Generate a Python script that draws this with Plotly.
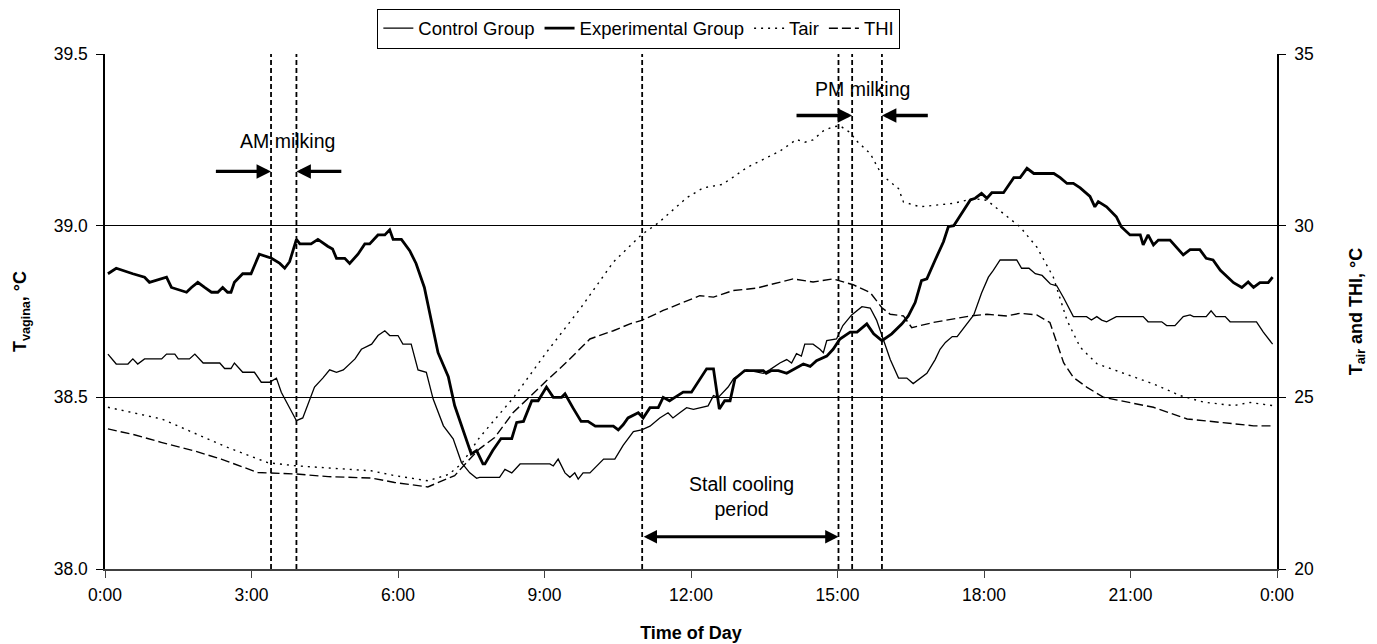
import plotly.graph_objects as go

# ---------------- data (time in hours of day) ----------------
ctrl_t = [0.06, 0.23, 0.47, 0.57, 0.67, 0.81, 1.16, 1.26, 1.43, 1.50, 1.73, 1.84, 2.01, 2.35, 2.45, 2.58, 2.65,
          2.82, 3.06, 3.20, 3.37, 3.51, 3.61, 3.75, 3.92, 4.05, 4.29, 4.46, 4.60, 4.74, 4.88, 5.12, 5.25, 5.46,
          5.59, 5.73, 5.83, 6.00, 6.10, 6.27, 6.41, 6.58, 6.72, 6.93, 7.13, 7.30, 7.47, 7.61, 7.67, 8.08, 8.19,
          8.33, 8.50, 9.11, 9.18, 9.28, 9.42, 9.52, 9.62, 9.69, 9.79, 9.93, 10.11, 10.21, 10.44, 10.61, 10.82,
          10.99, 11.16, 11.36, 11.53, 11.63, 11.77, 11.91, 12.05, 12.19, 12.35, 12.46, 12.56, 12.76, 12.87,
          13.14, 13.48, 13.61, 13.82, 13.96, 14.06, 14.16, 14.26, 14.33, 14.50, 14.64, 14.71, 14.78, 14.98,
          15.11, 15.29, 15.50, 15.67, 15.80, 15.94, 16.08, 16.25, 16.42, 16.55, 16.69, 16.83, 17.00, 17.10,
          17.21, 17.35, 17.45, 17.65, 17.79, 17.95, 18.09, 18.19, 18.33, 18.67, 18.77, 18.92, 19.05, 19.19,
          19.36, 19.49, 19.63, 19.83, 20.10, 20.20, 20.31, 20.41, 20.51, 20.71, 21.26, 21.36, 21.64, 21.74,
          21.91, 22.08, 22.22, 22.29, 22.55, 22.65, 22.75, 22.94, 23.04, 23.58, 23.72, 23.91]
ctrl_v = [38.626, 38.597, 38.597, 38.612, 38.597, 38.612, 38.612, 38.626, 38.626, 38.612, 38.612, 38.626, 38.600,
          38.600, 38.584, 38.584, 38.600, 38.573, 38.573, 38.544, 38.544, 38.556, 38.515, 38.476, 38.432, 38.440,
          38.530, 38.556, 38.580, 38.573, 38.580, 38.612, 38.640, 38.655, 38.680, 38.694, 38.680, 38.680, 38.655,
          38.655, 38.580, 38.573, 38.495, 38.417, 38.379, 38.310, 38.280, 38.264, 38.267, 38.267, 38.290, 38.280,
          38.306, 38.306, 38.300, 38.320, 38.280, 38.267, 38.280, 38.262, 38.280, 38.280, 38.306, 38.320, 38.320,
          38.360, 38.400, 38.405, 38.416, 38.440, 38.455, 38.440, 38.455, 38.470, 38.465, 38.470, 38.475, 38.505,
          38.500, 38.530, 38.554, 38.580, 38.570, 38.580, 38.600, 38.610, 38.600, 38.627, 38.620, 38.655, 38.655,
          38.640, 38.630, 38.665, 38.670, 38.709, 38.740, 38.764, 38.760, 38.725, 38.667, 38.610, 38.556, 38.556,
          38.540, 38.556, 38.570, 38.610, 38.640, 38.660, 38.677, 38.677, 38.716, 38.740, 38.804, 38.850, 38.870,
          38.900, 38.900, 38.876, 38.876, 38.860, 38.855, 38.830, 38.825, 38.790, 38.735, 38.735, 38.725, 38.735,
          38.725, 38.720, 38.735, 38.735, 38.720, 38.720, 38.709, 38.709, 38.735, 38.740, 38.735, 38.735, 38.752,
          38.735, 38.735, 38.720, 38.720, 38.690, 38.655]

exp_t = [0.06, 0.23, 0.57, 0.81, 0.91, 1.26, 1.36, 1.67, 1.77, 1.90, 2.04, 2.18, 2.31, 2.41, 2.51, 2.58, 2.65,
         2.82, 2.99, 3.16, 3.41, 3.58, 3.68, 3.78, 3.92, 3.99, 4.22, 4.36, 4.56, 4.66, 4.74, 4.91, 5.01, 5.18,
         5.32, 5.42, 5.59, 5.73, 5.83, 5.90, 6.07, 6.24, 6.37, 6.54, 6.82, 7.03, 7.16, 7.37, 7.50, 7.61, 7.74,
         7.78, 7.94, 8.11, 8.33, 8.43, 8.57, 8.74, 8.87, 9.04, 9.18, 9.35, 9.42, 9.58, 9.75, 9.89, 10.04, 10.41,
         10.51, 10.61, 10.71, 10.92, 11.02, 11.16, 11.33, 11.43, 11.56, 11.67, 11.84, 12.01, 12.19, 12.32, 12.46,
         12.58, 12.69, 12.80, 12.90, 13.10, 13.48, 13.54, 13.65, 13.79, 13.96, 14.13, 14.30, 14.44, 14.57, 14.78,
         14.91, 15.05, 15.26, 15.40, 15.60, 15.74, 15.91, 16.11, 16.32, 16.45, 16.59, 16.72, 16.83, 17.00, 17.17,
         17.27, 17.38, 17.72, 17.82, 17.95, 18.06, 18.16, 18.40, 18.61, 18.74, 18.88, 19.02, 19.43, 19.56, 19.70,
         19.83, 19.97, 20.17, 20.27, 20.34, 20.51, 20.71, 20.81, 20.99, 21.20, 21.26, 21.36, 21.47, 21.57, 21.81,
         22.08, 22.22, 22.42, 22.55, 22.69, 22.84, 23.11, 23.28, 23.41, 23.52, 23.65, 23.82, 23.91]
exp_v = [38.860, 38.876, 38.860, 38.850, 38.835, 38.850, 38.820, 38.806, 38.820, 38.835, 38.820, 38.806, 38.806,
         38.820, 38.806, 38.806, 38.835, 38.860, 38.860, 38.917, 38.905, 38.890, 38.876, 38.895, 38.960, 38.947,
         38.947, 38.960, 38.940, 38.932, 38.905, 38.905, 38.890, 38.917, 38.947, 38.947, 38.973, 38.973, 38.988,
         38.960, 38.960, 38.927, 38.890, 38.820, 38.630, 38.560, 38.476, 38.388, 38.335, 38.345, 38.306, 38.306,
         38.345, 38.380, 38.380, 38.427, 38.430, 38.490, 38.490, 38.530, 38.500, 38.500, 38.510, 38.470, 38.430,
         38.430, 38.416, 38.416, 38.405, 38.420, 38.440, 38.455, 38.440, 38.470, 38.470, 38.500, 38.490, 38.500,
         38.515, 38.515, 38.554, 38.583, 38.583, 38.466, 38.490, 38.490, 38.554, 38.578, 38.578, 38.570, 38.578,
         38.578, 38.570, 38.583, 38.597, 38.590, 38.607, 38.620, 38.640, 38.670, 38.690, 38.690, 38.714, 38.685,
         38.665, 38.685, 38.714, 38.737, 38.776, 38.840, 38.845, 38.900, 38.953, 38.997, 39.000, 39.075, 39.080,
         39.094, 39.080, 39.096, 39.096, 39.140, 39.140, 39.167, 39.152, 39.152, 39.140, 39.123, 39.123, 39.110,
         39.085, 39.055, 39.070, 39.055, 39.026, 38.997, 38.973, 38.973, 38.944, 38.973, 38.944, 38.958, 38.958,
         38.915, 38.930, 38.930, 38.905, 38.900, 38.870, 38.834, 38.820, 38.836, 38.820, 38.834, 38.834, 38.850]

tair_t = [0.06, 1.16, 2.51, 3.33, 3.87, 4.56, 5.45, 5.93, 6.61, 7.03, 7.30, 7.67, 7.97, 8.37, 9.04, 9.73, 10.41,
          10.99, 11.33, 11.64, 11.91, 12.25, 12.46, 12.63, 12.80, 13.14, 13.48, 13.82, 14.16, 14.33, 14.50, 14.71,
          14.91, 15.05, 15.26, 15.39, 15.67, 15.91, 16.25, 16.35, 16.69, 17.37, 17.78, 18.06, 18.40, 18.74, 19.08,
          19.42, 19.70, 19.97, 20.31, 20.79, 21.47, 22.02, 22.50, 23.11, 23.45, 23.90]
tair_v = [24.71, 24.37, 23.54, 23.10, 23.01, 22.94, 22.86, 22.72, 22.57, 22.75, 23.06, 23.83, 24.32, 25.00, 26.31,
          27.58, 28.94, 29.74, 30.08, 30.47, 30.81, 31.10, 31.15, 31.20, 31.35, 31.69, 31.93, 32.17, 32.51, 32.43,
          32.50, 32.76, 32.88, 32.91, 32.71, 32.47, 32.10, 31.47, 31.08, 30.69, 30.55, 30.65, 30.79, 30.74, 30.35,
          29.96, 29.38, 28.50, 27.24, 26.46, 25.98, 25.73, 25.39, 25.05, 24.86, 24.76, 24.85, 24.76]

thi_t = [0.06, 0.60, 1.15, 1.83, 2.38, 3.13, 3.88, 4.57, 5.45, 5.93, 6.61, 7.16, 7.50, 7.67, 7.98, 8.36, 9.04,
         9.45, 9.93, 10.41, 10.75, 10.99, 11.43, 11.77, 12.18, 12.46, 12.86, 13.34, 13.68, 14.09, 14.50, 14.91,
         15.32, 15.67, 15.91, 16.08, 16.35, 16.52, 16.96, 17.37, 17.72, 18.06, 18.47, 18.74, 19.08, 19.35, 19.49,
         19.63, 19.83, 20.11, 20.45, 20.79, 21.47, 22.16, 22.84, 23.52, 23.90]
thi_v = [24.08, 23.91, 23.69, 23.44, 23.20, 22.81, 22.77, 22.69, 22.65, 22.52, 22.39, 22.72, 23.25, 23.50, 23.83,
         24.56, 25.48, 26.02, 26.70, 26.94, 27.14, 27.24, 27.53, 27.72, 27.96, 27.92, 28.11, 28.18, 28.31, 28.45,
         28.36, 28.45, 28.28, 28.05, 27.61, 27.42, 27.37, 27.03, 27.18, 27.28, 27.37, 27.42, 27.37, 27.45, 27.40,
         27.18, 26.60, 26.01, 25.58, 25.29, 25.00, 24.90, 24.71, 24.37, 24.27, 24.17, 24.17]

x_tickvals = [0, 3, 6, 9, 12, 15, 18, 21, 24]
x_ticktext = ["0:00", "3:00", "6:00", "9:00", "12:00", "15:00", "18:00", "21:00", "0:00"]

# event times (hours): AM milking start/end, stall cooling start/end, PM milking
am_milking = [3.40, 3.92]
stall_cooling = [11.0, 15.02]
pm_milking = [15.30, 15.91]

FONT = "Liberation Sans, Arial, sans-serif"

fig = go.Figure()
fig.add_trace(go.Scatter(x=ctrl_t, y=ctrl_v, name="Control Group", mode="lines",
                         line=dict(color="black", width=1.3)))
fig.add_trace(go.Scatter(x=exp_t, y=exp_v, name="Experimental Group", mode="lines",
                         line=dict(color="black", width=2.8)))
fig.add_trace(go.Scatter(x=tair_t, y=tair_v, name="Tair", mode="lines", yaxis="y2",
                         line=dict(color="black", width=1.4, dash="2px,5px")))
fig.add_trace(go.Scatter(x=thi_t, y=thi_v, name="THI", mode="lines", yaxis="y2",
                         line=dict(color="black", width=1.4, dash="9px,4px")))

# vertical event lines
for xv in am_milking + stall_cooling + pm_milking:
    fig.add_shape(type="line", xref="x", yref="paper", x0=xv, x1=xv, y0=0, y1=1,
                  line=dict(color="black", width=1.8, dash="5px,3px"), layer="above")

# annotations
txt_font = dict(family=FONT, size=19.5, color="black")
fig.add_annotation(x=3.74, y=39.246, text="AM milking", showarrow=False, font=txt_font)
fig.add_annotation(x=15.52, y=39.397, text="PM milking", showarrow=False, font=txt_font)
fig.add_annotation(x=13.04, y=38.21, text="Stall cooling<br>period", showarrow=False, font=txt_font)

arrow_common = dict(text="", showarrow=True, arrowhead=2, arrowsize=0.85, arrowwidth=3.4,
                    arrowcolor="black", axref="x", ayref="y", xref="x", yref="y")
fig.add_annotation(x=am_milking[0], y=39.158, ax=2.24, ay=39.158, **arrow_common)
fig.add_annotation(x=am_milking[1], y=39.158, ax=4.87, ay=39.158, **arrow_common)
fig.add_annotation(x=pm_milking[0], y=39.321, ax=14.13, ay=39.321, **arrow_common)
fig.add_annotation(x=pm_milking[1], y=39.321, ax=16.88, ay=39.321, **arrow_common)
fig.add_annotation(x=stall_cooling[1], y=38.094, ax=stall_cooling[0], ay=38.094, text="", showarrow=True,
                   arrowhead=2, startarrowhead=2, arrowside="end+start", arrowsize=0.95, startarrowsize=0.95,
                   arrowwidth=2.8, arrowcolor="black", axref="x", ayref="y", xref="x", yref="y")

tick_font = dict(family=FONT, size=17.5, color="black")
title_font = dict(family=FONT, size=18, color="black")

fig.update_layout(
    width=1377, height=644, autosize=False,
    margin=dict(l=105, r=100, t=54, b=75, autoexpand=False),
    paper_bgcolor="white", plot_bgcolor="white",
    font=dict(family=FONT, size=17, color="black"),
    showlegend=True,
    legend=dict(orientation="h", x=0.4555, xanchor="center", y=1.088, yanchor="top",
                bordercolor="black", borderwidth=1, bgcolor="white",
                font=dict(family=FONT, size=18.5, color="black"),
                itemwidth=30, tracegroupgap=0, traceorder="normal"),
    xaxis=dict(range=[0, 24], tickmode="array", tickvals=x_tickvals, ticktext=x_ticktext,
               showgrid=False, zeroline=False, showline=True, linecolor="#404040", linewidth=2,
               ticks="outside", ticklen=7, tickcolor="#404040", tickfont=tick_font,
               ticklabelstandoff=2, automargin=False,
               title=dict(text="<b>Time of Day</b>", font=title_font, standoff=22)),
    yaxis=dict(range=[38.0, 39.5], tickmode="array", tickvals=[38.0, 38.5, 39.0, 39.5],
               ticktext=["38.0", "38.5", "39.0", "39.5"],
               showgrid=True, gridcolor="black", gridwidth=1, zeroline=False,
               showline=True, linecolor="black", linewidth=1.5,
               ticks="outside", ticklen=7, tickcolor="black", tickfont=tick_font,
               ticklabelstandoff=5, automargin=False,
               title=dict(text="<b>T<sub>vagina</sub>, °C</b>", font=title_font, standoff=22)),
    yaxis2=dict(range=[20, 35], overlaying="y", side="right", tickmode="array",
                tickvals=[20, 25, 30, 35], showgrid=False, zeroline=False,
                showline=True, linecolor="black", linewidth=1.5,
                ticks="outside", ticklen=7, tickcolor="black", tickfont=tick_font,
                ticklabelstandoff=5, automargin=False,
                title=dict(text="<b>T<sub>air</sub> and THI, °C</b>", font=title_font, standoff=36)),
)

fig.write_html("out.html")
